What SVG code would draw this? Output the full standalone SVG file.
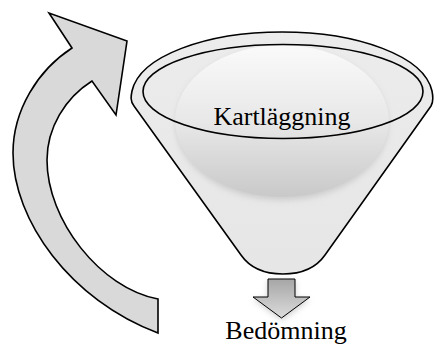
<svg xmlns="http://www.w3.org/2000/svg" width="434" height="345" viewBox="0 0 434 345">
  <defs>
    <style>
      .lbl { font-family: "Liberation Serif", "Times New Roman", serif; font-size: 26px; fill: #000; text-anchor: middle; }
      .edge { stroke: #000; stroke-width: 1.6; stroke-linejoin: miter; }
    </style>
    <linearGradient id="funnelFill" x1="0" y1="0" x2="0" y2="1">
      <stop offset="0" stop-color="#ececec"/>
      <stop offset="1" stop-color="#e6e6e6"/>
    </linearGradient>
    <linearGradient id="sphereFill" x1="0" y1="0" x2="0" y2="1">
      <stop offset="0" stop-color="#fafafa"/>
      <stop offset="0.5" stop-color="#e8e8e8"/>
      <stop offset="1" stop-color="#c9c9c9"/>
    </linearGradient>
    <linearGradient id="downFill" x1="0" y1="0" x2="0" y2="1">
      <stop offset="0" stop-color="#a6a6a6"/>
      <stop offset="1" stop-color="#dcdcdc"/>
    </linearGradient>
    <filter id="soft" x="-20%" y="-20%" width="140%" height="150%">
      <feGaussianBlur stdDeviation="3"/>
    </filter>
  </defs>

  <g id="funnel">
    <path class="edge" fill="url(#funnelFill)" d="M 134,106 C 130,101 131,96 132,91 C 140,56 206,32 282,32 C 358,32 424,56 432,91 C 433,96 434,101 431,106 L 325,255 C 316,268 302,274 283,274 C 264,274 250,268 241,255 Z"/>
    <ellipse cx="282" cy="124" rx="106" ry="76" fill="#b8b8b8" opacity="0.6" filter="url(#soft)"/>
    <ellipse cx="282" cy="121" rx="107" ry="76" fill="url(#sphereFill)"/>
    <ellipse class="edge" cx="283" cy="91.5" rx="140" ry="47" fill="none"/>
  </g>

  <g id="node-kartlaggning">
    <text class="lbl" x="282" y="124.5">Kartläggning</text>
  </g>

  <g id="node-bedomning">
    <text class="lbl" x="286" y="338.5">Bedömning</text>
  </g>

  <g id="connectors">
    <path class="edge" fill="#d9d9d9" d="M 72,48 L 49,13 L 127,41 L 116,115 L 92,81 C 65,98 47,128 47,160 C 47,220 100,288 158,299 L 158,333 C 70,300 13,220 13,153 C 13,110 38,70 72,48 Z"/>
    <path d="M 268,281 L 295,281 L 295,299 L 310,299 L 282,320 L 253,299 L 268,299 Z" fill="#999" opacity="0.5" filter="url(#soft)"/>
    <path fill="url(#downFill)" stroke="#000" stroke-width="1" d="M 268,279 L 295,279 L 295,297 L 310,297 L 281.5,318 L 253,297 L 268,297 Z"/>
  </g>
</svg>
